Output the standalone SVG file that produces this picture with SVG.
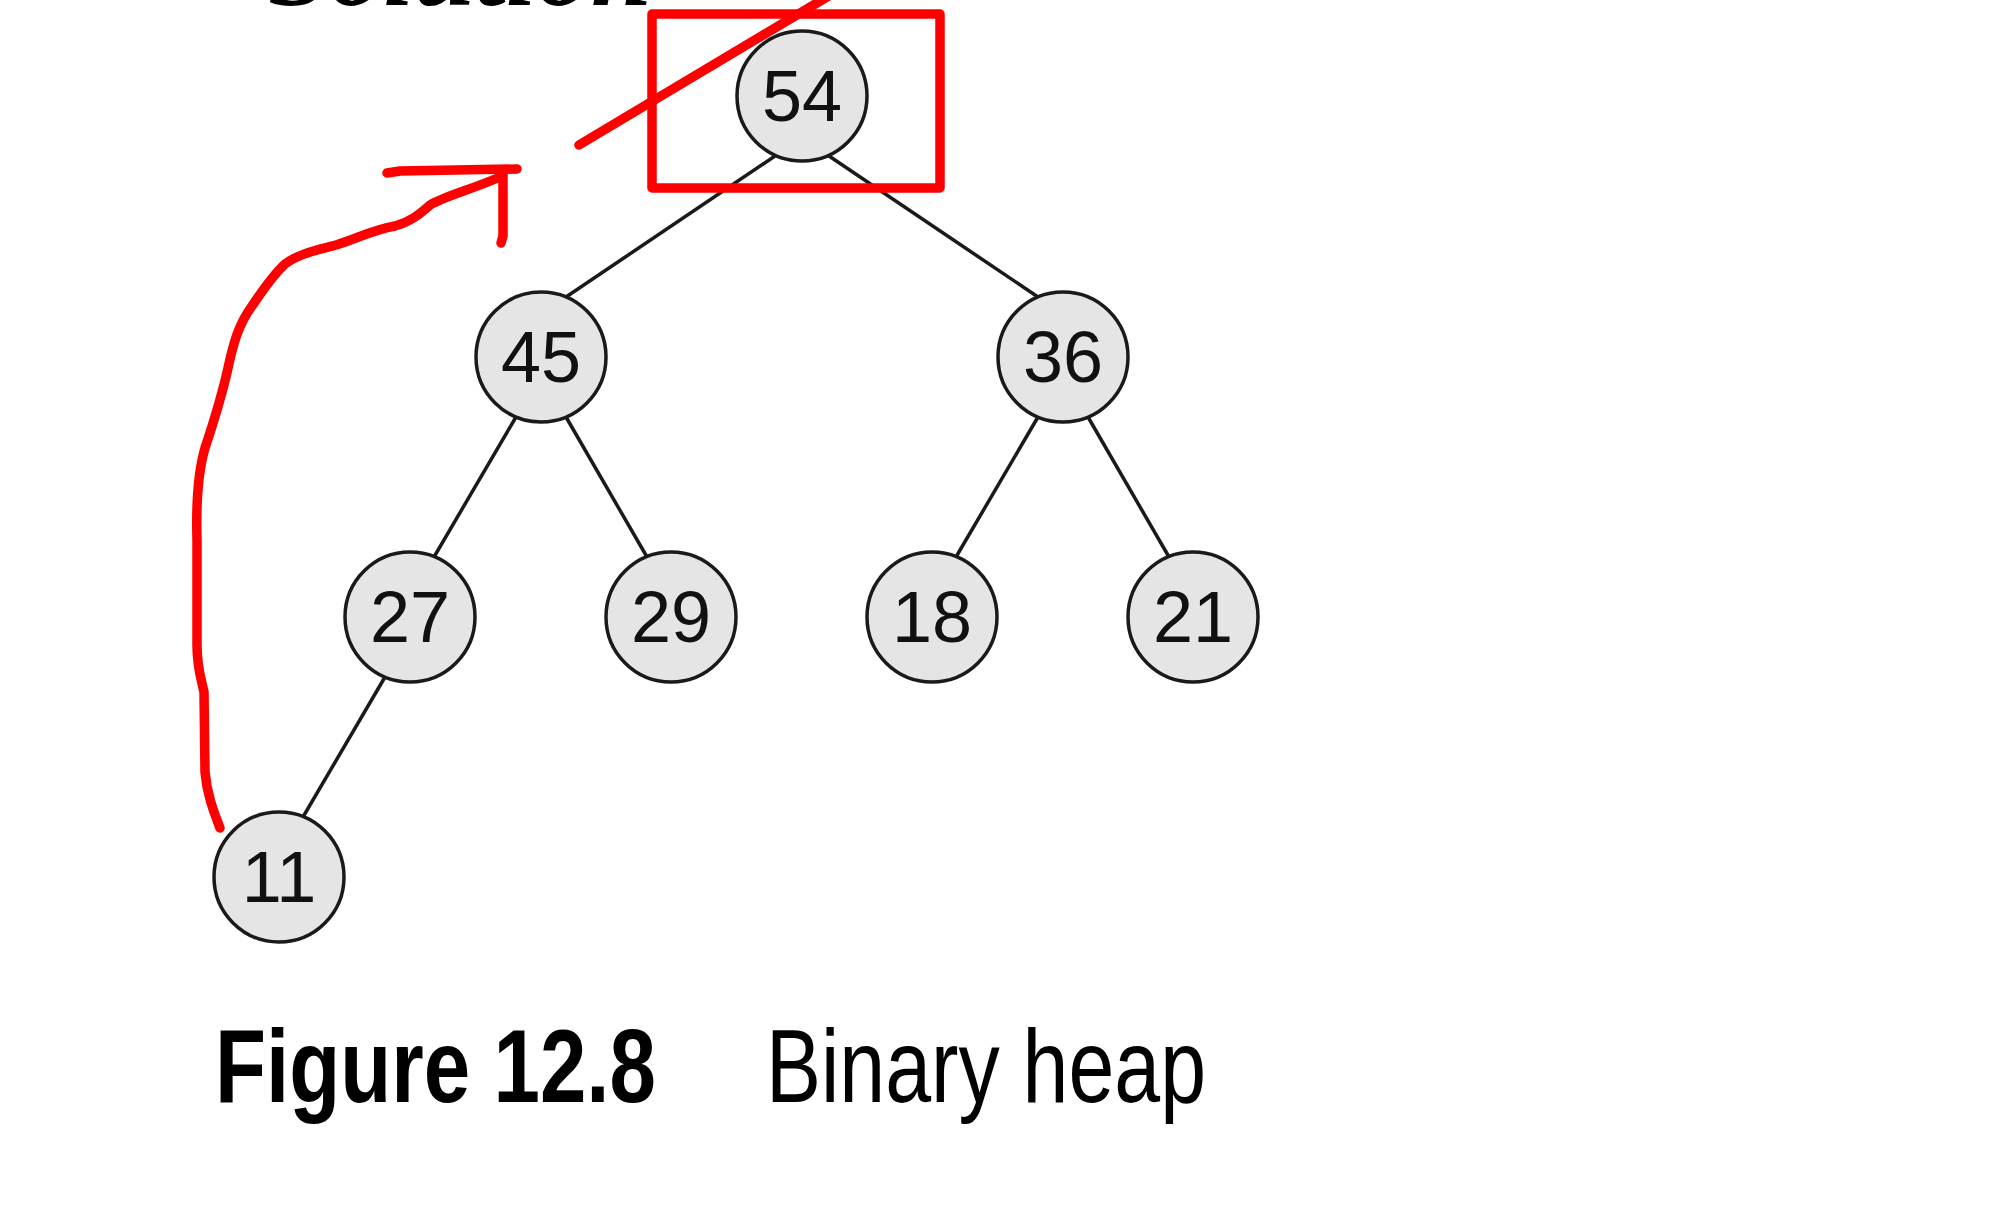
<svg xmlns="http://www.w3.org/2000/svg" width="2000" height="1219" viewBox="0 0 2000 1219">
  <style>
    .edge { stroke: #1a1a1a; stroke-width: 3.5; fill: none; }
    .node circle { fill: #e5e5e5; stroke: #1a1a1a; stroke-width: 3.5; }
    .node text { font-family: "Liberation Sans", Arial, sans-serif; font-size: 72px; fill: #111; text-anchor: middle; }
    .ink { stroke: #ff0000; fill: none; stroke-width: 9.5; stroke-linecap: round; stroke-linejoin: round; }
    .cap { font-family: "Liberation Sans", Arial, sans-serif; font-size: 103px; fill: #000; }
  </style>
  <rect width="2000" height="1219" fill="#ffffff"/>

  <!-- heading cut off at the top edge -->
  <text x="268" y="5" font-family="'Liberation Serif', 'Times New Roman', serif" font-weight="bold" font-style="italic" font-size="108" textLength="384" lengthAdjust="spacingAndGlyphs" fill="#000">Solution</text>

  <!-- tree edges: from the bottom of a parent to the top of a child -->
  <g id="connectors">
    <line class="edge" x1="775" y1="156" x2="566" y2="297"/>
    <line class="edge" x1="829" y1="156" x2="1038" y2="297"/>
    <line class="edge" x1="516" y1="417" x2="434" y2="557"/>
    <line class="edge" x1="566" y1="417" x2="647" y2="557"/>
    <line class="edge" x1="1038" y1="417" x2="956" y2="557"/>
    <line class="edge" x1="1088" y1="417" x2="1169" y2="557"/>
    <line class="edge" x1="385" y1="677" x2="303" y2="817"/>
  </g>

  <!-- heap nodes -->
  <g id="n54" class="node"><circle cx="802" cy="96" r="65"/><text x="802" y="121">54</text></g>
  <g id="n45" class="node"><circle cx="541" cy="357" r="65"/><text x="541" y="382">45</text></g>
  <g id="n36" class="node"><circle cx="1063" cy="357" r="65"/><text x="1063" y="382">36</text></g>
  <g id="n27" class="node"><circle cx="410" cy="617" r="65"/><text x="410" y="642">27</text></g>
  <g id="n29" class="node"><circle cx="671" cy="617" r="65"/><text x="671" y="642">29</text></g>
  <g id="n18" class="node"><circle cx="932" cy="617" r="65"/><text x="932" y="642">18</text></g>
  <g id="n21" class="node"><circle cx="1193" cy="617" r="65"/><text x="1193" y="642">21</text></g>
  <g id="n11" class="node"><circle cx="279" cy="877" r="65"/><text x="279" y="902">11</text></g>

  <!-- hand-drawn red annotations -->
  <g id="annotations">
    <rect class="ink" x="652" y="14" width="288" height="174" stroke-width="10" stroke-linecap="butt" stroke-linejoin="miter"/>
    <line class="ink" x1="579" y1="145" x2="832" y2="-6"/>
    <path class="ink" d="M220,828 C214,812 207,795 205,772 L204,692 C201,678 197,668 197,645 L197,540 C196,505 198,472 205,448 C213,424 222,395 228,368 C233,345 238,325 252,306 C263,290 272,276 285,264 C300,253 318,250 336,245 C356,239 372,230 395,226 C410,222 420,214 430,205 C445,196 470,190 500,177"/>
    <polyline class="ink" points="387,173 400,171 517,169"/>
    <polyline class="ink" points="503,170 503,236 501,243"/>
  </g>

  <!-- caption -->
  <text class="cap" x="215" y="1102" font-weight="bold" textLength="441" lengthAdjust="spacingAndGlyphs">Figure 12.8</text>
  <text class="cap" x="766" y="1102" textLength="440" lengthAdjust="spacingAndGlyphs">Binary heap</text>
</svg>
